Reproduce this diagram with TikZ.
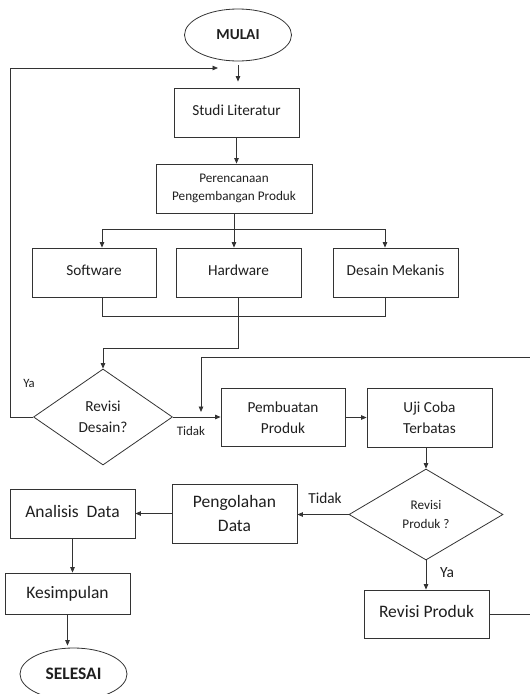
\documentclass[tikz,border=0pt]{standalone}
\usepackage{fontspec}
\setmainfont{Carlito}
\usetikzlibrary{shapes.geometric,arrows.meta}
\definecolor{lc}{gray}{0.2}
\definecolor{tc}{gray}{0.12}
\tikzset{
  box/.style={draw=lc, line width=0.8pt, rectangle, inner sep=2pt, align=center, text=tc},
  term/.style={draw=lc, line width=0.8pt, ellipse, minimum width=107pt, minimum height=52pt, inner sep=0pt, text=tc},
  dec/.style={draw=lc, line width=0.8pt, diamond, aspect=1.45, inner sep=0pt, align=center, text=tc},
  conn/.style={draw=lc, line width=0.8pt},
  arr/.style={conn, -{Triangle[length=5.5pt,width=4.5pt]}},
  lbl/.style={text=tc, inner sep=0pt},
  fA/.style={font=\fontsize{15.3}{21.5}\selectfont},
  fB/.style={font=\fontsize{13.2}{18.6}\selectfont},
  fC/.style={font=\fontsize{17.5}{24.5}\selectfont},
  fAb/.style={font=\fontsize{15.3}{21.5}\selectfont\bfseries},
  fCb/.style={font=\fontsize{17.5}{24.5}\selectfont\bfseries},
}
\begin{document}
\begin{tikzpicture}[x=1pt,y=-1pt]
\useasboundingbox (0,0) rectangle (530,694);
\clip (0,0) rectangle (530,694);
% nodes
\node[term,fAb] (mulai) at (238,35) {MULAI};
\node[box,fA,minimum width=125pt,minimum height=49pt] (studi) at (236.5,112.5) {\raisebox{5pt}{Studi Literatur}};
\node[box,fB,minimum width=156pt,minimum height=49pt] (peren) at (234,188.5) {Perencanaan\\Pengembangan Produk};
\node[box,fA,minimum width=124pt,minimum height=49pt] (soft) at (94,272.5) {\raisebox{5pt}{Software}};
\node[box,fA,minimum width=125pt,minimum height=49pt] (hard) at (238.5,272.5) {\raisebox{5pt}{Hardware}};
\node[box,fA,minimum width=125pt,minimum height=49pt] (desain) at (395.5,272.5) {\raisebox{5pt}{Desain Mekanis}};
\node[dec,fA,minimum width=139pt,minimum height=96pt] (rd) at (103,417) {Revisi\\Desain?};
\node[box,fA,minimum width=124pt,minimum height=58pt] (pem) at (283,417.5) {Pembuatan\\Produk};
\node[box,fA,minimum width=125pt,minimum height=59pt] (uji) at (429.5,417.5) {Uji Coba\\Terbatas};
\node[dec,fB,minimum width=154pt,minimum height=91pt] (rp) at (426,514.5) {Revisi\\Produk ?};
\node[box,fC,minimum width=125pt,minimum height=59pt] (peng) at (234.5,513.5) {Pengolahan\\Data};
\node[box,fC,minimum width=125pt,minimum height=49pt] (ana) at (72.5,513.5) {\raisebox{4pt}{Analisis\ \ Data}};
\node[box,fC,minimum width=125pt,minimum height=41pt] (kes) at (67.5,593.5) {\raisebox{2pt}{Kesimpulan}};
\node[term,fCb] (selesai) at (73.5,674) {SELESAI};
\node[box,fC,minimum width=125pt,minimum height=48pt] (rev) at (426.5,614) {\raisebox{6pt}{Revisi Produk}};
% labels
\node[lbl,font=\fontsize{12.7}{15}\selectfont] (ya1) at (29,383) {Ya};
\node[lbl,font=\fontsize{13}{15}\selectfont] (tidak1) at (191,431) {Tidak};
\node[lbl,font=\fontsize{15.3}{18}\selectfont] (tidak2) at (325,498) {Tidak};
\node[lbl,font=\fontsize{15.5}{18}\selectfont] (ya2) at (447,573) {Ya};
% coordinates
\coordinate (fbend) at (218,68);
\coordinate (spl) at (102,229);
\coordinate (spr) at (385,229);
\coordinate (ml) at (102,316);
\coordinate (mr) at (385,316);
\coordinate (hm) at (238,348);
\coordinate (rx) at (545,357);
\coordinate (loopin) at (201,412);
% connectors
\draw[arr,shorten <=4pt,shorten >=6pt] (mulai.south) -- (mulai.south |- studi.north);
\draw[arr] (rd.west) -- ++(-23,0) |- (fbend);
\draw[arr] (studi.south) -- (studi.south |- peren.north);
\draw[arr] (peren.south) -- (peren.south |- hard.north);
\draw[conn] (spl) -- (spr);
\draw[arr] (spl) -- (spl |- soft.north);
\draw[arr] (spr) -- (spr |- desain.north);
\draw[conn] (ml |- soft.south) -- (ml) -- (mr) -- (mr |- desain.south);
\draw[arr] (hard.south) -- (hard.south |- hm) -| (rd.north);
\draw[arr] (rd.east) -- (rd.east -| pem.west);
\draw[arr] (rev.east) -| (rx) -| (loopin);
\draw[arr] (pem.east) -- (pem.east -| uji.west);
\draw[arr] (rp.north |- uji.south) -- (rp.north);
\draw[arr] (rp.west) -- (rp.west -| peng.east);
\draw[arr] (peng.west) -- (peng.west -| ana.east);
\draw[arr] (ana.south) -- (ana.south |- kes.north);
\draw[arr,shorten >=2pt] (kes.south) -- (kes.south |- selesai.north);
\draw[arr] (rp.south) -- (rp.south |- rev.north);
\end{tikzpicture}
\end{document}
